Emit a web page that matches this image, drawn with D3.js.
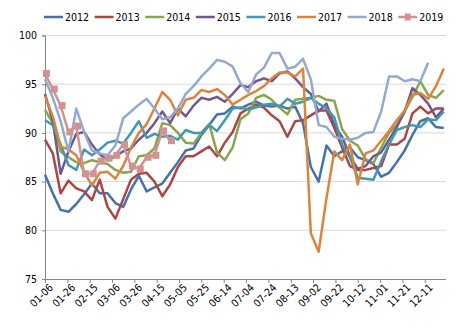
<!DOCTYPE html>
<html lang="en">
<head>
<meta charset="UTF-8">
<title>Chart</title>
<script src="https://cdn.jsdelivr.net/npm/d3@7/dist/d3.min.js"></script>
<style>
    * { margin: 0; padding: 0; }
    body { background: #fff; width: 469px; height: 333px; overflow: hidden; }
    svg text {
        font-family: "Liberation Sans Narrow", "Arial Narrow", "DejaVu Sans Condensed", sans-serif;
        font-size: 10.5px;
        fill: #000;
    }
</style>
</head>
<body>
<svg id="chart" width="469" height="333"></svg>
<script>
    // 图例
    const years = ['2012', '2013', '2014', '2015', '2016', '2017', '2018', '2019'];
    // x 轴标签 (每 20 天)
    const tickLabels = ['01-06', '01-26', '02-15', '03-06', '03-26', '04-15', '05-05', '05-25', '06-14',
        '07-04', '07-24', '08-13', '09-02', '09-22', '10-12', '11-01', '11-21', '12-11'];
    const yTicks = [75, 80, 85, 90, 95, 100];

    // 每周数据
    const s2012 = [85.7, 83.8, 82.1, 81.9, 82.7, 83.7, 84.8, 83.8, 83.8, 82.8, 82.4, 84.2, 85.6, 84.0, 84.4, 84.8,
        85.9, 87.0, 88.2, 88.4, 89.8, 90.8, 91.9, 92.0, 92.7, 92.5, 92.9, 93.2, 92.8, 92.7, 92.8, 92.5, 92.7, 91.0,
        86.5, 85.0, 88.7, 87.6, 88.1, 88.5, 87.5, 87.2, 86.8, 85.5, 85.9, 87.0, 88.2, 89.8, 91.2, 91.5, 90.6, 90.5];
    const s2013 = [89.3, 87.9, 83.8, 85.1, 84.3, 84.0, 83.1, 85.2, 82.4, 81.2, 83.2, 85.2, 85.8, 85.9, 85.0, 83.5,
        84.7, 86.5, 87.6, 87.6, 88.1, 88.6, 87.6, 89.0, 90.1, 92.0, 92.5, 92.9, 92.6, 91.8, 91.2, 89.6, 91.2, 91.3,
        91.8, 92.3, 92.3, 90.5, 88.5, 86.6, 86.2, 86.2, 86.4, 86.6, 88.8, 88.8, 89.4, 92.0, 92.7, 92.0, 92.5, 92.5];
    const s2014 = [92.4, 91.0, 88.1, 87.5, 87.0, 86.9, 87.2, 87.0, 86.8, 86.2, 85.9, 86.0, 87.6, 87.7, 88.4, 91.0,
        90.8, 90.0, 89.0, 88.9, 90.0, 90.9, 88.0, 87.2, 88.5, 91.4, 92.0, 93.6, 93.9, 93.4, 92.6, 91.9, 93.4, 93.5,
        93.6, 93.8, 93.4, 93.3, 90.4, 89.2, 88.7, 87.3, 86.9, 88.5, 90.0, 90.8, 92.2, 93.7, 95.3, 93.9, 93.6, 94.4];
    const s2015 = [94.0, 91.2, 85.8, 88.1, 89.9, 90.1, 88.8, 87.8, 87.2, 87.6, 88.1, 88.4, 89.3, 90.0, 91.0, 92.2,
        91.0, 92.5, 91.7, 92.8, 93.6, 93.4, 93.7, 93.2, 94.0, 94.9, 94.7, 95.3, 95.6, 95.3, 96.1, 96.3, 95.6, 94.7,
        94.0, 92.2, 93.0, 90.8, 89.6, 87.6, 86.3, 86.6, 87.6, 88.0, 89.3, 90.6, 92.2, 94.6, 93.9, 93.0, 91.6, 92.5];
    const s2016 = [91.3, 90.8, 88.8, 86.7, 86.2, 88.3, 87.7, 88.3, 89.0, 89.2, 88.9, 90.0, 91.2, 89.5, 89.9, 89.6,
        89.7, 89.3, 90.3, 90.0, 90.0, 90.8, 90.2, 91.3, 92.5, 92.6, 92.4, 92.6, 92.9, 93.0, 92.7, 93.5, 93.0, 93.2,
        93.6, 93.0, 92.5, 91.6, 88.8, 87.5, 85.4, 85.3, 85.2, 87.1, 88.8, 90.3, 90.6, 90.8, 90.6, 91.4, 91.3, 92.2];
    const s2017 = [93.8, 91.7, 88.6, 88.3, 87.7, 86.0, 84.6, 85.9, 86.0, 85.3, 86.6, 88.5, 90.0, 90.9, 92.5, 94.2,
        93.4, 91.8, 93.4, 93.6, 94.4, 94.2, 94.5, 93.9, 92.9, 93.4, 93.9, 94.3, 94.8, 95.6, 96.2, 96.2, 95.8, 96.6,
        79.7, 77.8, 83.3, 88.1, 87.2, 88.8, 84.7, 87.9, 88.2, 89.2, 90.2, 91.3, 92.3, 93.9, 94.1, 93.5, 94.8, 96.6];
    const s2018 = [95.5, 93.6, 91.2, 88.1, 92.5, 90.1, 88.2, 87.9, 87.7, 88.7, 91.5, 92.2, 92.9, 93.5, 92.5, 91.4,
        91.6, 92.5, 94.0, 94.8, 95.8, 96.6, 97.5, 97.3, 96.8, 95.1, 94.2, 96.0, 96.7, 98.2, 98.2, 96.6, 96.8, 97.6,
        95.5, 90.8, 90.6, 89.6, 89.4, 89.3, 89.5, 90.0, 90.1, 92.2, 95.8, 95.8, 95.3, 95.5, 95.3, 97.2];
    const s2019 = [96.1, 94.5, 92.8, 90.1, 90.7, 85.8, 85.8, 87.1, 87.4, 87.7, 88.8, 86.6, 86.3, 87.5, 87.7, 90.2, 89.2];

    const seriesValues = [s2012, s2013, s2014, s2015, s2016, s2017, s2018, s2019];
    const colors = ['#4572A7', '#AA4643', '#89A54E', '#71588F', '#4198AF', '#DB843D', '#93A9CF', '#D19392'];

    const svg = d3.select('#chart');
    const plotLeft = 45, plotRight = 446, plotTop = 35.5, plotBottom = 279;

    // x: 以 01-06 为第 0 天
    const x = d3.scaleLinear().domain([0, 359]).range([plotLeft, plotRight]);
    const y = d3.scaleLinear().domain([75, 100]).range([plotBottom, plotTop]);

    // 网格线
    svg.append('g')
        .selectAll('line')
        .data(yTicks.slice(1))
        .enter()
        .append('line')
        .attr('x1', plotLeft).attr('x2', plotRight)
        .attr('y1', d => y(d)).attr('y2', d => y(d))
        .attr('stroke', '#d9d9d9')
        .attr('stroke-width', 1);

    // y 轴
    const yAxis = svg.append('g')
        .attr('transform', `translate(${plotLeft},0)`)
        .call(d3.axisLeft(y).tickValues(yTicks).tickSize(3).tickPadding(5));
    yAxis.select('.domain').attr('stroke', '#868686');
    yAxis.selectAll('.tick line').attr('stroke', '#868686');
    yAxis.selectAll('text').attr('font-size', null).attr('font-family', null);
    yAxis.attr('font-size', null).attr('font-family', null);

    // x 轴
    const xAxis = svg.append('g')
        .attr('transform', `translate(0,${plotBottom})`)
        .call(d3.axisBottom(x)
            .tickValues(tickLabels.map((d, i) => i * 20))
            .tickFormat((d, i) => tickLabels[i])
            .tickSize(4)
            .tickSizeOuter(0));
    xAxis.attr('font-size', null).attr('font-family', null);
    xAxis.select('.domain').attr('stroke', '#868686').attr('d', `M${plotLeft},0.5H${plotRight}`);
    xAxis.selectAll('.tick line').attr('stroke', '#868686');
    xAxis.selectAll('text')
        .attr('text-anchor', 'end')
        .attr('dy', null)
        .attr('transform', 'translate(4,5) rotate(-45)')
        .attr('y', 6)
        .attr('x', 0);

    // 折线
    const line = d3.line()
        .x((d, i) => x(i * 7))
        .y(d => y(d));

    seriesValues.forEach((vals, k) => {
        svg.append('path')
            .datum(vals)
            .attr('fill', 'none')
            .attr('stroke', colors[k])
            .attr('stroke-width', 2.5)
            .attr('stroke-linejoin', 'round')
            .attr('d', line);
    });

    // 2019 方块标记
    svg.append('g')
        .selectAll('rect')
        .data(s2019)
        .enter()
        .append('rect')
        .attr('x', (d, i) => x(i * 7) + 1.4 - 3.5)
        .attr('y', d => y(d) - 3.5)
        .attr('width', 7)
        .attr('height', 7)
        .attr('fill', colors[7]);

    // 图例
    const legend = svg.append('g').attr('transform', 'translate(44,17)');
    const item = legend.selectAll('g')
        .data(years)
        .enter()
        .append('g')
        .attr('transform', (d, i) => `translate(${i * 50.6},0)`);
    item.append('line')
        .attr('x1', 0).attr('x2', 19)
        .attr('y1', 0).attr('y2', 0)
        .attr('stroke', (d, i) => colors[i])
        .attr('stroke-width', 2.5);
    item.filter((d, i) => i === 7)
        .append('rect')
        .attr('x', 6.5).attr('y', -3.5)
        .attr('width', 6).attr('height', 7)
        .attr('fill', colors[7]);
    item.append('text')
        .attr('x', 21)
        .attr('y', 0)
        .attr('dy', '0.35em')
        .text(d => d);
</script>
</body>
</html>
